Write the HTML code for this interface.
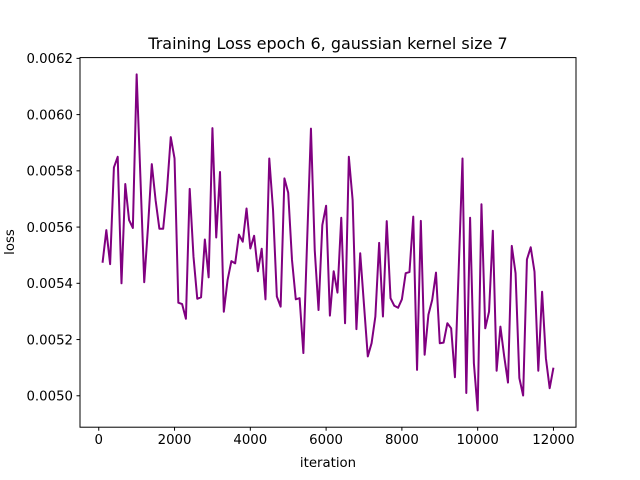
<!DOCTYPE html>
<html><head><meta charset="utf-8"><style>
body{margin:0;background:#fff;}
svg{display:block;font-family:"DejaVu Sans","Liberation Sans",sans-serif;}
</style></head><body>
<svg id="chart" width="640" height="480" viewBox="0 0 640 480">
<rect x="0" y="0" width="640" height="480" fill="#fff"/>
<text x="328" y="49" font-size="16" text-anchor="middle">Training Loss epoch 6, gaussian kernel size 7</text>
<g id="xticks"></g>
<g id="yticks"></g>
<polyline id="line" fill="none" stroke="#800080" stroke-width="2" stroke-linejoin="round"/>
<rect x="80" y="57.6" width="496" height="369.6" fill="none" stroke="#000" stroke-width="1"/>
<text x="328" y="467" font-size="13.3" text-anchor="middle">iteration</text>
<text x="0" y="0" font-size="13.3" text-anchor="middle" transform="translate(14,242) rotate(-90)">loss</text>
</svg>
<script>
const iterStep = 100;
const lossValues = [0.005473,0.005589,0.005468,0.005812,0.005850,0.005400,0.005753,0.005625,0.005597,0.006143,
0.005774,0.005404,0.005601,0.005824,0.005696,0.005594,0.005594,0.005731,0.005920,0.005844,
0.005331,0.005326,0.005274,0.005736,0.005495,0.005345,0.005350,0.005556,0.005421,0.005952,
0.005563,0.005796,0.005299,0.005412,0.005479,0.005471,0.005573,0.005548,0.005666,0.005524,
0.005569,0.005443,0.005523,0.005343,0.005844,0.005660,0.005353,0.005317,0.005773,0.005722,
0.005483,0.005343,0.005347,0.005152,0.005554,0.005950,0.005518,0.005305,0.005607,0.005676,
0.005285,0.005443,0.005367,0.005633,0.005258,0.005850,0.005696,0.005237,0.005507,0.005323,
0.005140,0.005187,0.005282,0.005544,0.005282,0.005621,0.005347,0.005320,0.005313,0.005343,
0.005436,0.005440,0.005637,0.005092,0.005622,0.005146,0.005288,0.005341,0.005438,0.005187,
0.005189,0.005258,0.005240,0.005066,0.005454,0.005844,0.005010,0.005633,0.005116,0.004948,
0.005681,0.005240,0.005299,0.005587,0.005089,0.005246,0.005140,0.005047,0.005533,0.005436,
0.005063,0.005001,0.005485,0.005528,0.005441,0.005089,0.005370,0.005134,0.005027,0.005100];
const xTickValues = [0,2000,4000,6000,8000,10000,12000];
const yTickValues = [0.0050,0.0052,0.0054,0.0056,0.0058,0.0060,0.0062];
const yTickLabels = ["0.0050","0.0052","0.0054","0.0056","0.0058","0.0060","0.0062"];

const L=80,R=576,T=57.6,B=427.2;
const iters = lossValues.map((v,i)=>(i+1)*iterStep);
const xmin0=Math.min(...iters), xmax0=Math.max(...iters), xm=(xmax0-xmin0)*0.05;
const xmin=xmin0-xm, xmax=xmax0+xm;
const ymin0=Math.min(...lossValues), ymax0=Math.max(...lossValues), ym=(ymax0-ymin0)*0.05;
const ymin=ymin0-ym, ymax=ymax0+ym;
const sx=v=>L+(v-xmin)/(xmax-xmin)*(R-L);
const sy=v=>B-(v-ymin)/(ymax-ymin)*(B-T);
const NS="http://www.w3.org/2000/svg";
const line=document.getElementById('line');
line.setAttribute('points', lossValues.map((v,i)=>sx(iters[i]).toFixed(2)+','+sy(v).toFixed(2)).join(' '));
const xg=document.getElementById('xticks');
xTickValues.forEach(t=>{
  const x=sx(t);
  const l=document.createElementNS(NS,'line');
  l.setAttribute('x1',x);l.setAttribute('x2',x);l.setAttribute('y1',B);l.setAttribute('y2',B+3.5);l.setAttribute('stroke','#000');
  
  
  xg.appendChild(l);
  const tx=document.createElementNS(NS,'text');
  tx.setAttribute('x',x);tx.setAttribute('y',B+17);tx.setAttribute('font-size','13.3');tx.setAttribute('text-anchor','middle');
  tx.textContent=String(t);
  
  
  xg.appendChild(tx);
});
const yg=document.getElementById('yticks');
yTickValues.forEach((t,i)=>{
  const y=sy(t);
  if(y<T-1||y>B+1) return;
  const l=document.createElementNS(NS,'line');
  l.setAttribute('x1',L-3.5);l.setAttribute('x2',L);l.setAttribute('y1',y);l.setAttribute('y2',y);l.setAttribute('stroke','#000');
  
  
  yg.appendChild(l);
  const tx=document.createElementNS(NS,'text');
  tx.setAttribute('x',L-7);tx.setAttribute('y',y+4.8);tx.setAttribute('font-size','13.3');tx.setAttribute('text-anchor','end');
  tx.textContent=yTickLabels[i];
  
  
  yg.appendChild(tx);
});
</script>
</body></html>
